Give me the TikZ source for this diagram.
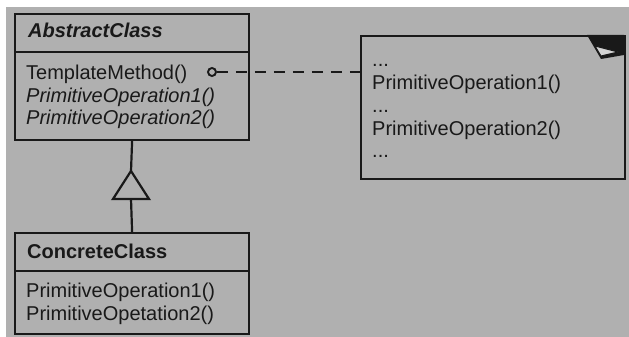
\documentclass[tikz,border=0pt]{standalone}
\usepackage{fontspec}
\setmainfont{Liberation Sans}
\definecolor{paper}{RGB}{176,176,176}
\definecolor{ink}{RGB}{25,25,25}
\begin{document}
\begin{tikzpicture}[x=1pt,y=-1pt,
  box/.style={draw=ink, line width=2.2pt, fill=paper, anchor=north west, inner sep=0pt},
  txt/.style={anchor=base west, inner sep=0pt, text=ink, font=\fontsize{20}{24}\selectfont},
  ttl/.style={txt, font=\fontsize{20}{24}\selectfont\bfseries},
  conn/.style={draw=ink, line width=2.2pt}]
\useasboundingbox (0,0) rectangle (629,337);
\fill[white] (0,0) rectangle (629,337);
\fill[paper] (6,7) rectangle (629,337);

% AbstractClass
\node[box, minimum width=234pt, minimum height=126pt] (abs) at (14,13) {};
\coordinate (d1) at (0,52);
\draw[conn] (abs.west |- d1) -- (abs.east |- d1);
\node[ttl] (absname) at (28,38) {\itshape AbstractClass};
\node[txt] (tm) at (26,79) {TemplateMethod()};
\node[txt] (apo1) at (26,102) {\itshape PrimitiveOperation1()};
\node[txt] (apo2) at (26,124) {\itshape PrimitiveOperation2()};

% Note
\node[box, minimum width=264pt, minimum height=143pt] (note) at (360,35) {};
\fill[ink] (587,35) -- (624,35) -- (624,55) -- (601,59) -- cycle;
\filldraw[fill=paper!55!white, draw=ink, line width=1pt, line join=round] (595,46) -- (601,56) -- (618,52) -- cycle;
\node[txt] (n1) at (372,66.5) {...};
\node[txt] (n2) at (372,89.5) {PrimitiveOperation1()};
\node[txt] (n3) at (372,112.5) {...};
\node[txt] (n4) at (372,135) {PrimitiveOperation2()};
\node[txt] (n5) at (372,157.5) {...};

% Template method link
\node[circle, draw=ink, line width=1.9pt, fill=paper, minimum size=8pt, inner sep=0pt] (circ) at (212,72) {};
\draw[conn, dash pattern=on 11pt off 8pt] (circ.east) -- (circ -| note.west);

% ConcreteClass
\node[box, minimum width=234pt, minimum height=101pt] (conc) at (14,232) {};
\coordinate (d2) at (0,271);
\draw[conn] (conc.west |- d2) -- (conc.east |- d2);
\node[ttl] (concname) at (27,258) {ConcreteClass};
\node[txt] (cpo1) at (26,297) {PrimitiveOperation1()};
\node[txt] (cpo2) at (26,320) {PrimitiveOpetation2()};

% Inheritance
\coordinate (apex) at (131,171);
\coordinate (tbl) at (113,199);
\coordinate (tbr) at (149,199);
\coordinate (tbase) at (131,199);
\draw[conn] (abs.south) -- (apex);
\draw[conn, fill=paper, line join=miter] (apex) -- (tbl) -- (tbr) -- cycle;
\draw[conn] (tbase) -- (conc.north);
\end{tikzpicture}
\end{document}
